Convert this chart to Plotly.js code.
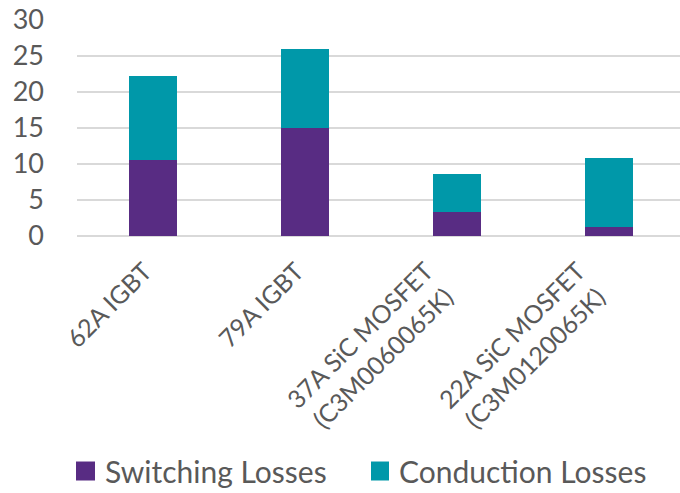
<!DOCTYPE html>
<html>
<head>
<meta charset="utf-8">
<script src="https://cdn.plot.ly/plotly-3.0.1.min.js"></script>
<style>
  html, body { margin: 0; padding: 0; background: #fff; }
  #chart { width: 680px; height: 493px; }
</style>
</head>
<body>
<div id="chart"></div>
<script>
// Device categories (tick labels) and loss components per device
const devices = [
  "62A IGBT",
  "79A IGBT",
  "37A SiC MOSFET<br>(C3M0060065K)",
  "22A SiC MOSFET<br>(C3M0120065K)"
];
const seriesNames = ["Switching Losses", "Conduction Losses"];
const switchingLosses = [10.5, 15.0, 3.4, 1.3];
const conductionLosses = [11.7, 11.0, 5.2, 9.5];
const yTicks = [0, 5, 10, 15, 20, 25, 30];

const seriesColors = ["#582c83", "#0098a9"];
const textColor = "#595959";
const fontFamily = "Lato, 'Noto Sans', sans-serif";

const traces = [
  {
    type: "bar",
    name: seriesNames[0],
    x: devices,
    y: switchingLosses,
    marker: { color: seriesColors[0], line: { width: 0 } },
    hoverinfo: "y"
  },
  {
    type: "bar",
    name: seriesNames[1],
    x: devices,
    y: conductionLosses,
    marker: { color: seriesColors[1], line: { width: 0 } },
    hoverinfo: "y"
  }
];

// Category labels: rotated text blocks whose top-right corner hangs just below each bar
const categoryLabels = devices.map(name => ({
  xref: "x", yref: "paper",
  x: name, y: 0,
  xanchor: "right", yanchor: "top",
  xshift: 6, yshift: -18,
  textangle: -45,
  align: "center",
  text: name,
  showarrow: false,
  borderpad: 0,
  font: { size: 25, color: textColor, family: fontFamily }
}));

// Legend drawn below the plot: large square swatches followed by series names
const legendY = -1.088;
const legendItems = [
  { swatch: [-1, 18], textShift: 26 },
  { swatch: [294, 312], textShift: 320 }
];
const legendSwatches = legendItems.map((item, i) => ({
  type: "rect",
  xref: "paper", yref: "paper",
  xsizemode: "pixel", ysizemode: "pixel",
  xanchor: 0, yanchor: legendY,
  x0: item.swatch[0], x1: item.swatch[1],
  y0: -9.5, y1: 9.5,
  fillcolor: seriesColors[i],
  line: { width: 0 }
}));
const legendLabels = legendItems.map((item, i) => ({
  xref: "paper", yref: "paper",
  x: 0, y: legendY,
  xanchor: "left", yanchor: "middle",
  xshift: item.textShift,
  text: seriesNames[i],
  showarrow: false,
  font: { size: 30, color: textColor, family: fontFamily }
}));

const layout = {
  width: 680,
  height: 493,
  margin: { l: 77, r: 0, t: 20, b: 257, pad: 0 },
  paper_bgcolor: "#ffffff",
  plot_bgcolor: "#ffffff",
  barmode: "stack",
  bargap: 0.69,
  font: { family: fontFamily, color: textColor },
  xaxis: {
    type: "category",
    range: [-0.5, 3.467],
    showticklabels: false,
    showgrid: false,
    showline: false,
    zeroline: false,
    ticks: ""
  },
  yaxis: {
    range: [0, 30],
    tickvals: yTicks,
    ticktext: yTicks.map(String),
    tickfont: { size: 27, color: textColor, family: fontFamily },
    showgrid: true,
    gridcolor: "#d9d9d9",
    gridwidth: 2,
    zeroline: true,
    zerolinecolor: "#d9d9d9",
    zerolinewidth: 2,
    showline: false,
    ticks: "",
    ticklabelstandoff: 32
  },
  showlegend: false,
  shapes: legendSwatches,
  annotations: categoryLabels.concat(legendLabels)
};

Plotly.newPlot("chart", traces, layout, { displayModeBar: false, staticPlot: true });
</script>
</body>
</html>
